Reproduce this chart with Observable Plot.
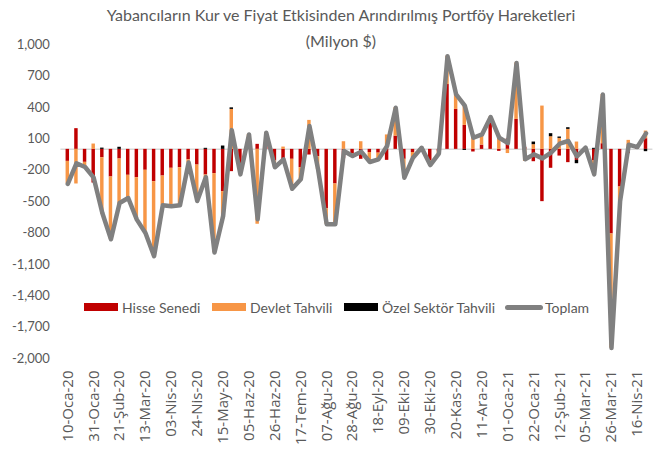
<!DOCTYPE html>
<html><head><meta charset="utf-8">
<script src="https://cdn.jsdelivr.net/npm/d3@7"></script>
<script src="https://cdn.jsdelivr.net/npm/@observablehq/plot@0.6"></script>
<style>
body{margin:0;background:#fff;}
#wrap{position:relative;width:665px;height:451px;overflow:hidden;font-family:Lato,sans-serif;color:#595959;}
#chart{position:absolute;left:0;top:0;}
#title{position:absolute;left:0;width:682px;top:2px;text-align:center;font-size:16px;line-height:26px;}
.lg{position:absolute;top:299px;height:16px;display:flex;align-items:center;font-size:14px;white-space:nowrap;}
.sw{display:inline-block;width:34px;height:8px;}
.ln{display:inline-block;width:38px;height:5px;border-radius:3px;background:#808080;}
</style></head><body>
<div id="wrap">
<div id="chart"></div>
<div id="title">Yabancıların Kur ve Fiyat Etkisinden Arındırılmış Portföy Hareketleri<br>(Milyon $)</div>
<div id="legend"></div>
</div>
<script>
const seriesNames = ["Hisse Senedi", "Devlet Tahvili", "Özel Sektör Tahvili"];
const seriesColors = ["#C00000", "#F79646", "#000000"];
const lineName = "Toplam";

const tickLabels = ["10-Oca-20","31-Oca-20","21-Şub-20","13-Mar-20","03-Nis-20","24-Nis-20","15-May-20","05-Haz-20","26-Haz-20","17-Tem-20","07-Ağu-20","28-Ağu-20","18-Eyl-20","09-Eki-20","30-Eki-20","20-Kas-20","11-Ara-20","01-Oca-21","22-Oca-21","12-Şub-21","05-Mar-21","26-Mar-21","16-Nis-21"];

const yTicks = [1000,700,400,100,-200,-500,-800,-1100,-1400,-1700,-2000];

const hisse = [-115,198,-124,-322,-80,-264,-92,-248,-271,-200,
  -309,-255,-181,-175,-100,-150,-245,-232,-404,-213,
  -217,30,48,30,-111,-117,-95,-175,-54,-70,
  -568,-331,-89,-41,-95,-30,-36,-105,127,-95,
  -30,5,-111,-20,620,382,229,-25,41,255,
  -19,100,286,20,-118,-500,-181,-64,-127,-105,
  10,-111,54,-809,-360,-41,10,102];

const devlet = [-215,-331,-45,51,-540,-596,-441,-217,-401,-599,
  -713,-280,-364,-360,-30,-344,-30,-755,-265,382,
  -22,113,-716,129,-60,22,-282,-111,277,-121,
  -148,-385,73,-23,73,-91,-60,138,271,-176,
  -50,10,-39,-21,271,143,200,136,102,54,
  130,-40,541,-115,45,414,121,105,191,70,
  6,-138,471,-1091,-136,86,12,73];

const ozel = [0,0,0,0,12,0,20,0,0,0,
  0,0,0,0,0,0,10,0,32,15,
  0,0,0,0,0,0,0,0,0,0,
  0,0,0,0,0,0,0,0,0,0,
  0,0,0,0,0,0,-10,0,0,0,
  0,0,0,0,25,0,29,13,16,-32,
  0,10,0,0,0,0,0,-22];

const toplam = [-331,-133,-169,-271,-608,-860,-513,-465,-672,-799,
  -1022,-535,-545,-535,-125,-494,-265,-987,-637,184,
  -239,143,-668,159,-171,-95,-377,-286,223,-191,
  -716,-716,-16,-64,-22,-121,-96,33,398,-271,
  -80,15,-150,-41,891,525,419,111,143,309,
  111,60,827,-95,-48,-86,-31,54,80,-67,
  16,-239,525,-1900,-496,45,22,153];

const n = toplam.length;
const rows = [];
for (let i = 0; i < n; i++) {
  [hisse, devlet, ozel].forEach((arr, s) => rows.push({i, s: seriesNames[s], v: arr[i]}));
}
const lineRows = toplam.map((v, i) => ({i, v}));

const chart = Plot.plot({
  width: 665, height: 451,
  marginTop: 44.3, marginBottom: 93, marginLeft: 60.4, marginRight: 12.6,
  style: {fontFamily: "Lato, sans-serif", fontSize: "13px", color: "#595959", background: "white"},
  x: {type: "band", domain: d3.range(n), padding: 0.6},
  y: {domain: [-2000, 1000]},
  color: {domain: seriesNames, range: seriesColors},
  marks: [
    Plot.ruleY([0], {stroke: "#d9d9d9", strokeWidth: 1.5}),
    Plot.barY(rows, {x: "i", y: "v", fill: "s"}),
    Plot.lineY(lineRows, {x: "i", y: "v", stroke: "#808080", strokeWidth: 4.5, strokeLinejoin: "round", strokeLinecap: "round"}),
    Plot.axisY({ticks: yTicks, tickFormat: d => d.toLocaleString("en-US"), tickSize: 0, tickPadding: 11, label: null, fontSize: 13}),
    Plot.axisX({ticks: d3.range(0, n, 3), tickFormat: i => tickLabels[i / 3], tickRotate: -90, tickSize: 0, tickPadding: 12, label: null, fontSize: 15, fontFamily: "Open Sans"})
  ]
});
document.getElementById("chart").appendChild(chart);

const legend = document.getElementById("legend");
const items = [
  {left: 84, html: `<span class="sw" style="background:${seriesColors[0]}"></span><span style="margin-left:4px">${seriesNames[0]}</span>`},
  {left: 212, html: `<span class="sw" style="background:${seriesColors[1]}"></span><span style="margin-left:4px">${seriesNames[1]}</span>`},
  {left: 344, html: `<span class="sw" style="background:${seriesColors[2]}"></span><span style="margin-left:4px">${seriesNames[2]}</span>`},
  {left: 505, html: `<span class="ln"></span><span style="margin-left:2px">${lineName}</span>`}
];
items.forEach(it => {
  const d = document.createElement("div");
  d.className = "lg";
  d.style.left = it.left + "px";
  d.innerHTML = it.html;
  legend.appendChild(d);
});
</script>
</body></html>
